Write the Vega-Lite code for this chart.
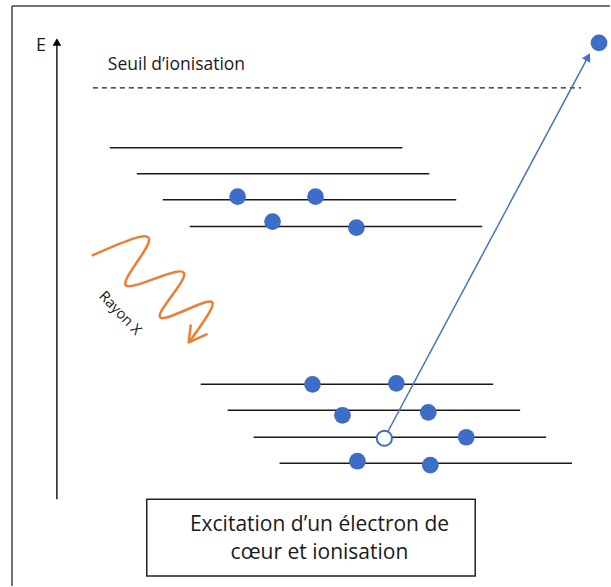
{
  "$schema": "https://vega.github.io/schema/vega-lite/v6.json",
  "width": 611,
  "height": 587,
  "padding": 0,
  "autosize": {"type": "fit", "contains": "padding"},
  "config": {"view": {"stroke": null}, "font": "Open Sans"},
  "layer": [
    {
      "data": {"values": [
        {"x": 12, "x2": 611, "y": 6, "y2": 6},
        {"x": 12, "x2": 12, "y": 6, "y2": 587}
      ]},
      "mark": {"type": "rule", "color": "#444444", "strokeWidth": 1.5},
      "encoding": {
        "x": {"field": "x", "type": "quantitative", "scale": {"domain": [0, 611]}, "axis": null},
        "x2": {"field": "x2"},
        "y": {"field": "y", "type": "quantitative", "scale": {"domain": [0, 587], "reverse": true}, "axis": null},
        "y2": {"field": "y2"}
      }
    },
    {
      "data": {"values": [
        {"x": 110, "x2": 403, "y": 148},
        {"x": 137, "x2": 430, "y": 174},
        {"x": 163, "x2": 457, "y": 200},
        {"x": 190, "x2": 483, "y": 227},
        {"x": 201, "x2": 494, "y": 385},
        {"x": 228, "x2": 521, "y": 411},
        {"x": 254, "x2": 547, "y": 438},
        {"x": 280, "x2": 573, "y": 464},
        {"x": 57, "x2": 57, "y": 500, "y2": 44}
      ]},
      "mark": {"type": "rule", "color": "#1a1a1a", "strokeWidth": 1.5},
      "encoding": {
        "x": {"field": "x", "type": "quantitative", "scale": {"domain": [0, 611]}, "axis": null},
        "x2": {"field": "x2"},
        "y": {"field": "y", "type": "quantitative", "scale": {"domain": [0, 587], "reverse": true}, "axis": null},
        "y2": {"field": "y2"}
      }
    },
    {
      "data": {"values": [{"x": 93, "x2": 582, "y": 88}]},
      "mark": {"type": "rule", "color": "#1a1a1a", "strokeWidth": 1.2, "strokeDash": [5, 4]},
      "encoding": {
        "x": {"field": "x", "type": "quantitative", "scale": {"domain": [0, 611]}, "axis": null},
        "x2": {"field": "x2"},
        "y": {"field": "y", "type": "quantitative", "scale": {"domain": [0, 587], "reverse": true}, "axis": null}
      }
    },
    {
      "data": {"values": [{"x": 57, "y": 42}]},
      "mark": {"type": "point", "shape": "triangle-up", "filled": true, "color": "#000000", "size": 75, "opacity": 1},
      "encoding": {
        "x": {"field": "x", "type": "quantitative", "scale": {"domain": [0, 611]}, "axis": null},
        "y": {"field": "y", "type": "quantitative", "scale": {"domain": [0, 587], "reverse": true}, "axis": null}
      }
    },
    {
      "data": {"values": [{"x": 386, "x2": 589, "y": 437, "y2": 57}]},
      "mark": {"type": "rule", "color": "#4472C4", "strokeWidth": 1.5},
      "encoding": {
        "x": {"field": "x", "type": "quantitative", "scale": {"domain": [0, 611]}, "axis": null},
        "x2": {"field": "x2"},
        "y": {"field": "y", "type": "quantitative", "scale": {"domain": [0, 587], "reverse": true}, "axis": null},
        "y2": {"field": "y2"}
      }
    },
    {
      "data": {"values": [{"x": 589, "y": 57}]},
      "mark": {"type": "point", "shape": "triangle-up", "filled": true, "color": "#4472C4", "size": 90, "opacity": 1, "angle": 28},
      "encoding": {
        "x": {"field": "x", "type": "quantitative", "scale": {"domain": [0, 611]}, "axis": null},
        "y": {"field": "y", "type": "quantitative", "scale": {"domain": [0, 587], "reverse": true}, "axis": null}
      }
    },
    {
      "data": {"values": [
        {"x": 238, "y": 197}, {"x": 316, "y": 197}, {"x": 273, "y": 222}, {"x": 357, "y": 228},
        {"x": 313, "y": 385}, {"x": 397, "y": 384}, {"x": 343, "y": 416}, {"x": 429, "y": 413},
        {"x": 467, "y": 438}, {"x": 358, "y": 462}, {"x": 431, "y": 466}, {"x": 600, "y": 43}
      ]},
      "mark": {"type": "point", "shape": "circle", "filled": true, "color": "#3D6DC7", "size": 280, "opacity": 1},
      "encoding": {
        "x": {"field": "x", "type": "quantitative", "scale": {"domain": [0, 611]}, "axis": null},
        "y": {"field": "y", "type": "quantitative", "scale": {"domain": [0, 587], "reverse": true}, "axis": null}
      }
    },
    {
      "data": {"values": [{"x": 385, "y": 439}]},
      "mark": {"type": "point", "shape": "circle", "filled": false, "fill": "#ffffff", "stroke": "#3D6DC7", "strokeWidth": 2, "size": 230, "opacity": 1},
      "encoding": {
        "x": {"field": "x", "type": "quantitative", "scale": {"domain": [0, 611]}, "axis": null},
        "y": {"field": "y", "type": "quantitative", "scale": {"domain": [0, 587], "reverse": true}, "axis": null}
      }
    },
    {
      "data": {"values": [
        {"o": 1, "x": 92, "y": 256}, {"o": 2, "x": 147, "y": 232}, {"o": 3, "x": 154, "y": 241},
        {"o": 4, "x": 120, "y": 285}, {"o": 5, "x": 129, "y": 290}, {"o": 6, "x": 184, "y": 267},
        {"o": 7, "x": 188, "y": 277}, {"o": 8, "x": 155, "y": 317}, {"o": 9, "x": 163, "y": 322},
        {"o": 10, "x": 214, "y": 297}, {"o": 11, "x": 215, "y": 307}, {"o": 12, "x": 190, "y": 342}
      ]},
      "mark": {"type": "line", "color": "#ED7D31", "strokeWidth": 2.5, "interpolate": "basis"},
      "encoding": {
        "x": {"field": "x", "type": "quantitative", "scale": {"domain": [0, 611]}, "axis": null},
        "y": {"field": "y", "type": "quantitative", "scale": {"domain": [0, 587], "reverse": true}, "axis": null},
        "order": {"field": "o"}
      }
    },
    {
      "data": {"values": [
        {"o": 1, "x": 191, "y": 326}, {"o": 2, "x": 189, "y": 343}, {"o": 3, "x": 207, "y": 335}
      ]},
      "mark": {"type": "line", "color": "#ED7D31", "strokeWidth": 2.5, "strokeCap": "round", "strokeJoin": "round"},
      "encoding": {
        "x": {"field": "x", "type": "quantitative", "scale": {"domain": [0, 611]}, "axis": null},
        "y": {"field": "y", "type": "quantitative", "scale": {"domain": [0, 587], "reverse": true}, "axis": null},
        "order": {"field": "o"}
      }
    },
    {
      "data": {"values": [{"x": 147, "x2": 476, "y": 500, "y2": 577}]},
      "mark": {"type": "rect", "fill": "#ffffff", "stroke": "#222222", "strokeWidth": 1.5},
      "encoding": {
        "x": {"field": "x", "type": "quantitative", "scale": {"domain": [0, 611]}, "axis": null},
        "x2": {"field": "x2"},
        "y": {"field": "y", "type": "quantitative", "scale": {"domain": [0, 587], "reverse": true}, "axis": null},
        "y2": {"field": "y2"}
      }
    },
    {
      "data": {"values": [
        {"x": 320, "y": 526, "t": "Excitation d\u2019un électron de"},
        {"x": 320, "y": 554, "t": "cœur et ionisation"}
      ]},
      "mark": {"type": "text", "color": "#1a1a1a", "baseline": "middle", "align": "center", "fontSize": 21},
      "encoding": {
        "x": {"field": "x", "type": "quantitative", "scale": {"domain": [0, 611]}, "axis": null},
        "y": {"field": "y", "type": "quantitative", "scale": {"domain": [0, 587], "reverse": true}, "axis": null},
        "text": {"field": "t"}
      }
    },
    {
      "data": {"values": [{"x": 108, "y": 65, "t": "Seuil d\u2019ionisation"}]},
      "mark": {"type": "text", "color": "#1a1a1a", "baseline": "middle", "align": "left", "fontSize": 17.5},
      "encoding": {
        "x": {"field": "x", "type": "quantitative", "scale": {"domain": [0, 611]}, "axis": null},
        "y": {"field": "y", "type": "quantitative", "scale": {"domain": [0, 587], "reverse": true}, "axis": null},
        "text": {"field": "t"}
      }
    },
    {
      "data": {"values": [{"x": 41, "y": 46, "t": "E"}]},
      "mark": {"type": "text", "color": "#1a1a1a", "baseline": "middle", "align": "center", "fontSize": 18},
      "encoding": {
        "x": {"field": "x", "type": "quantitative", "scale": {"domain": [0, 611]}, "axis": null},
        "y": {"field": "y", "type": "quantitative", "scale": {"domain": [0, 587], "reverse": true}, "axis": null},
        "text": {"field": "t"}
      }
    },
    {
      "data": {"values": [{"x": 120, "y": 314, "t": "Rayon X"}]},
      "mark": {"type": "text", "color": "#1a1a1a", "baseline": "middle", "align": "center", "angle": 46, "fontSize": 14.5},
      "encoding": {
        "x": {"field": "x", "type": "quantitative", "scale": {"domain": [0, 611]}, "axis": null},
        "y": {"field": "y", "type": "quantitative", "scale": {"domain": [0, 587], "reverse": true}, "axis": null},
        "text": {"field": "t"}
      }
    }
  ]
}
